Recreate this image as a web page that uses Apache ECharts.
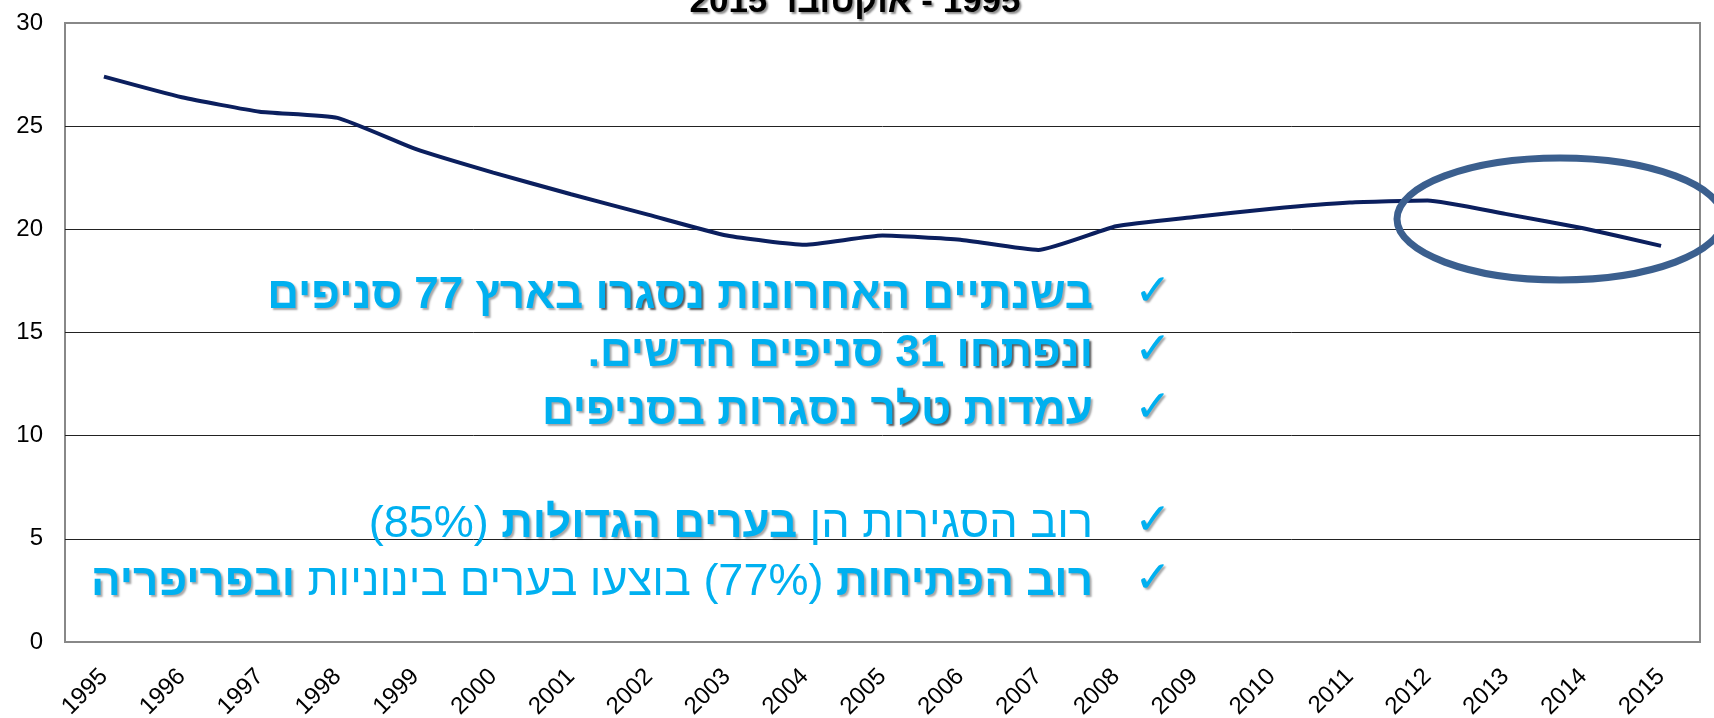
<!DOCTYPE html>
<html>
<head>
<meta charset="utf-8">
<script src="https://cdn.jsdelivr.net/npm/echarts@6/dist/echarts.min.js"></script>
<style>
  html, body { margin: 0; padding: 0; background: #fff; }
  #chart { width: 1714px; height: 718px; }
</style>
</head>
<body>
<div id="chart"></div>
<script>
const years = ['1995', '1996', '1997', '1998', '1999', '2000', '2001', '2002', '2003', '2004', '2005',
  '2006', '2007', '2008', '2009', '2010', '2011', '2012', '2013', '2014', '2015']
const values = [27.4, 26.4, 25.7, 25.4, 23.9, 22.75, 21.7, 20.7, 19.7, 19.25, 19.7,
  19.5, 19.0, 20.15, 20.6, 21.0, 21.3, 21.4, 20.75, 20.05, 19.2]
const yTicks = [0, 5, 10, 15, 20, 25, 30]

// text lines, segments in visual order (left to right)
const bullets = [
  [['b', 'בארץ 77 סניפים'], ['b', ' '], ['h', 'נסגרו'], ['b', ' '], ['b', 'בשנתיים האחרונות']],
  [['b', '\u200F31 סניפים חדשים.\u200F'], ['b', ' '], ['h', 'ונפתחו']],
  [['b', 'נסגרות בסניפים'], ['b', ' '], ['h', 'טלר'], ['b', ' '], ['b', 'עמדות']],
  [['n', '(85%)'], ['n', ' '], ['b', 'בערים הגדולות'], ['n', ' '], ['n', 'רוב הסגירות הן']],
  [['b', 'ובפריפריה'], ['n', ' '], ['n', 'בוצעו בערים בינוניות'], ['n', ' '], ['n', '(77%)'], ['n', ' '], ['b', 'רוב הפתיחות']]
]
const bulletY = [296, 354, 412, 525, 583]

const chart = echarts.init(document.getElementById('chart'))

const blue = '#00B0F0'
const font = '"Liberation Sans", Arial, sans-serif'
const rich = {
  b: { fontFamily: font, fontWeight: 'bold', fontSize: 44, fill: blue,
    textShadowColor: 'rgba(0,0,0,0.35)', textShadowOffsetX: 2, textShadowOffsetY: 2, textShadowBlur: 2 },
  h: { fontFamily: font, fontWeight: 'bold', fontSize: 44, fill: blue,
    textShadowColor: 'rgba(0,0,0,0.65)', textShadowOffsetX: 2, textShadowOffsetY: 2, textShadowBlur: 2 },
  n: { fontFamily: font, fontWeight: 'normal', fontSize: 45, fill: blue }
}

const graphics = []
bullets.forEach((line, i) => {
  graphics.push({
    type: 'text', x: 1093, y: bulletY[i], z: 10,
    style: {
      text: line.map(s => '{' + s[0] + '|' + s[1] + '}').join(''),
      rich: rich, align: 'right', verticalAlign: 'middle'
    }
  })
  graphics.push({
    type: 'text', x: 1153, y: bulletY[i] - 2, z: 10,
    style: {
      text: '✓', fontFamily: 'DejaVu Sans', fontSize: 44, fill: blue,
      align: 'center', verticalAlign: 'middle',
      textShadowColor: 'rgba(0,0,0,0.35)', textShadowOffsetX: 2, textShadowOffsetY: 2, textShadowBlur: 2
    }
  })
})

// title (clipped at the top)
graphics.push({
  type: 'text', x: 855, y: 2, z: 10,
  style: {
    text: '{t|אוקטובר 2015}{t| - 1995}',
    align: 'center', verticalAlign: 'middle',
    rich: { t: { fontFamily: font, fontWeight: 'bold', fontSize: 35, fill: '#000',
      textShadowColor: 'rgba(0,0,0,0.45)', textShadowOffsetX: 2, textShadowOffsetY: 2, textShadowBlur: 2 } }
  }
})

// highlight ellipse
graphics.push({
  type: 'ellipse', z: 20,
  shape: { cx: 1560, cy: 219, rx: 163, ry: 61 },
  style: { fill: 'none', stroke: '#3B5F8E', lineWidth: 7 }
})

chart.setOption({
  animation: false,
  backgroundColor: '#fff',
  grid: { left: 65, right: 14, top: 23, bottom: 76, outerBoundsMode: 'none',
    show: true, borderColor: '#888', borderWidth: 2 },
  xAxis: {
    type: 'category', data: years, boundaryGap: true,
    axisLine: { lineStyle: { color: '#888', width: 2 } },
    axisTick: { show: false },
    axisLabel: { rotate: 45, margin: 31, fontSize: 24, color: '#000', fontFamily: font, interval: 0 }
  },
  yAxis: {
    type: 'value', min: yTicks[0], max: yTicks[yTicks.length - 1], interval: 5,
    axisLine: { show: false }, axisTick: { show: false },
    axisLabel: { fontSize: 24, color: '#000', fontFamily: font, margin: 22 },
    splitLine: { lineStyle: { color: ['#888', '#222', '#222', '#222', '#222', '#222', '#888'], width: 1 } }
  },
  series: [{
    type: 'line', data: values, smooth: 0.15, symbol: 'none',
    lineStyle: { color: '#0B1F5E', width: 4 }
  }],
  graphic: graphics
})
</script>
</body>
</html>
